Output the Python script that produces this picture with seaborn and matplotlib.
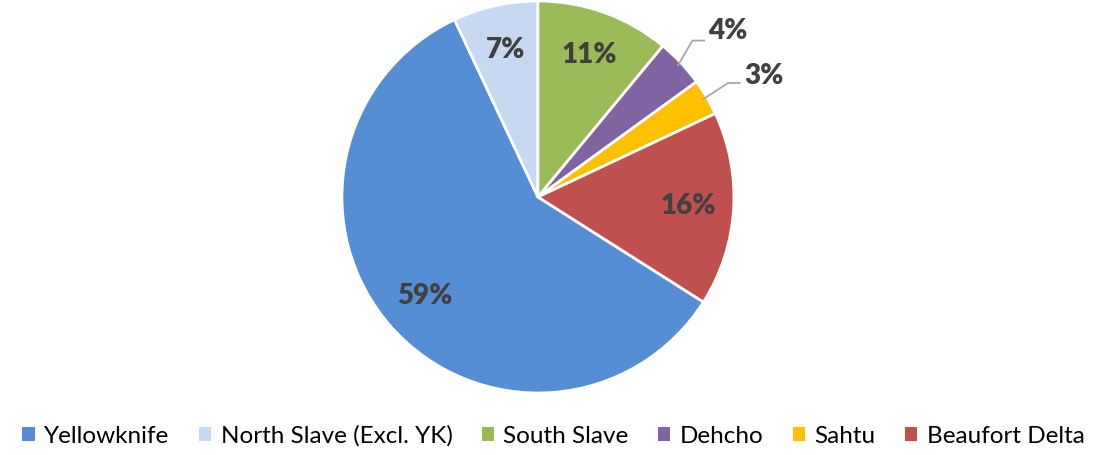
import numpy as np
import matplotlib
matplotlib.use("Agg")
import matplotlib.pyplot as plt
import seaborn as sns

regions = ["Yellowknife", "North Slave (Excl. YK)", "South Slave", "Dehcho", "Sahtu", "Beaufort Delta"]
shares = [59, 7, 11, 4, 3, 16]
colors = ["#558ED5", "#C6D9F1", "#9BBB59", "#8064A2", "#FFC000", "#C0504D"]

sns.set_theme(style="white")
plt.rcParams['font.family'] = ['Lato', 'DejaVu Sans']

fig = plt.figure(figsize=(11.07, 4.55), dpi=100)
ax = fig.add_axes([0.3071, 0.1319, 0.3577, 0.8703])

total = sum(shares)
first_angle = 360.0 * (total - shares[0] - shares[1]) / total  # clockwise from 12 o'clock
wedges, _ = ax.pie(shares, colors=colors, startangle=90 - first_angle, counterclock=False,
                   radius=0.99, wedgeprops=dict(edgecolor="white", linewidth=2))
ax.set_xlim(-1, 1)
ax.set_ylim(-1, 1)
ax.set_aspect('equal')
ax.axis('off')

label_color = "#404040"
lbl_kw = dict(fontsize=20, fontweight='heavy', color=label_color)
for w, v in zip(wedges, shares):
    mid = np.deg2rad((w.theta1 + w.theta2) / 2)
    txt = f"{v}%"
    if v >= 5:
        r = 0.76
        ax.text(r * np.cos(mid), r * np.sin(mid), txt, ha='center', va='center', **lbl_kw)

# leader-line labels for small slices
small = {3: ((0.78, 0.79), (0.84, 0.79), (0.86, 0.84)),
         4: ((0.96, 0.576), (1.02, 0.576), (1.04, 0.61))}
for idx, (elbow, end, tpos) in small.items():
    w = wedges[idx]
    mid = np.deg2rad((w.theta1 + w.theta2) / 2)
    p0 = (0.97 * np.cos(mid), 0.97 * np.sin(mid))
    ax.plot([p0[0], elbow[0], end[0]], [p0[1], elbow[1], end[1]], color="#A6A6A6",
            lw=1.3, clip_on=False)
    ax.text(tpos[0], tpos[1], f"{shares[idx]}%", ha='left', va='center', clip_on=False, **lbl_kw)

handles = [plt.Rectangle((0, 0), 1, 1, facecolor=c, edgecolor='none') for c in colors]
fig.legend(handles, regions, loc='lower center', bbox_to_anchor=(0.5, -0.03), ncol=6,
           frameon=False, fontsize=17.5, handlelength=0.5, handleheight=0.5,
           handletextpad=0.4, columnspacing=1.2, labelcolor='#000000')

fig.savefig("out.png", dpi=100, facecolor='white')
